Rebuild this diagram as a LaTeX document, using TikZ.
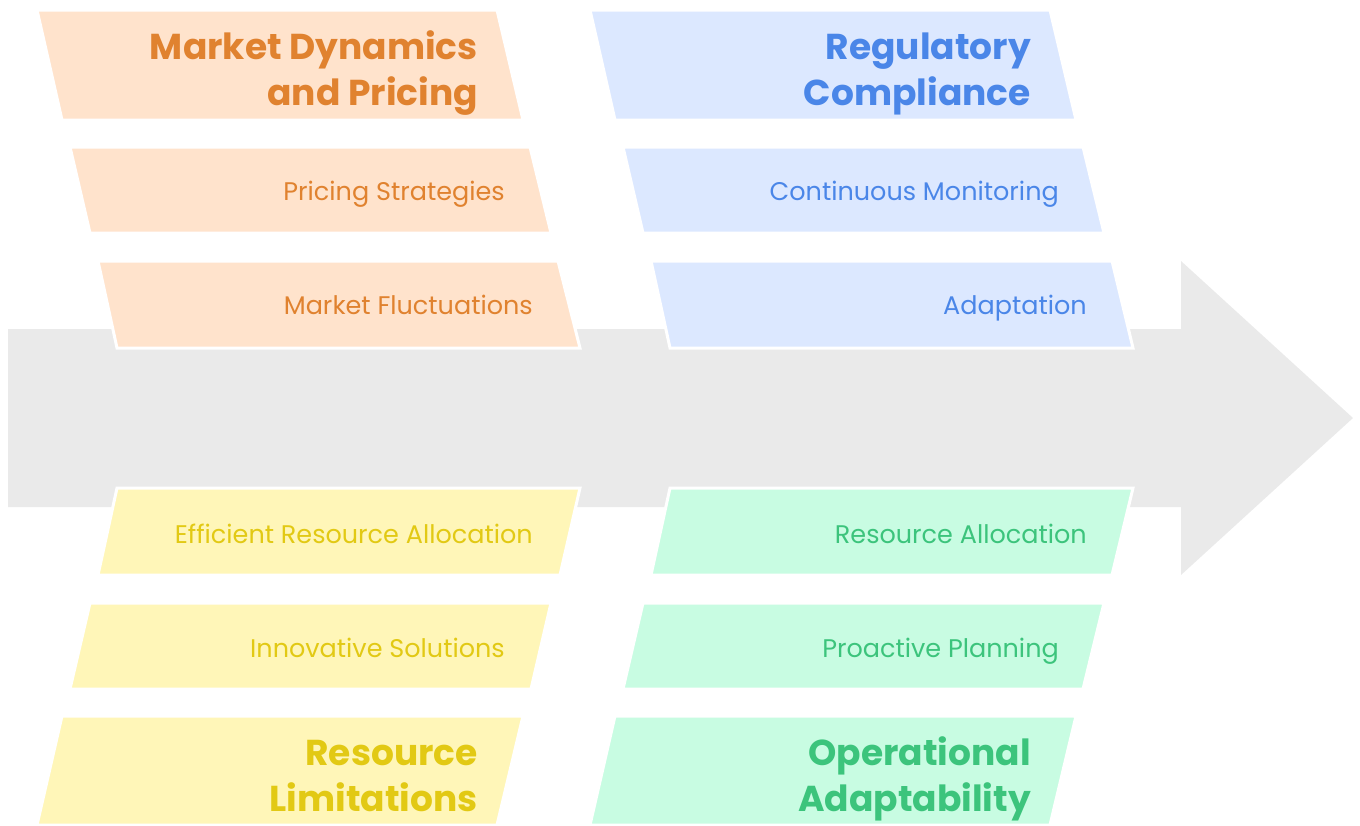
\documentclass[tikz,border=0pt]{standalone}
\usepackage{fontspec}
\setmainfont{Poppins}

% palette
\definecolor{arrowgray}{HTML}{EAEAEA}
\definecolor{orfill}{HTML}{FFE3CC}
\definecolor{ortext}{HTML}{E0822F}
\definecolor{blfill}{HTML}{DCE8FF}
\definecolor{bltext}{HTML}{4A86E8}
\definecolor{yefill}{HTML}{FFF6B8}
\definecolor{yetext}{HTML}{E2C914}
\definecolor{grfill}{HTML}{C8FCE2}
\definecolor{grtext}{HTML}{3CC47C}

\begin{document}
\begin{tikzpicture}[x=1pt,y=-1pt,
  card/.style={draw=white, line width=3pt, line join=miter},
  orcard/.style={card, fill=orfill},
  blcard/.style={card, fill=blfill},
  yecard/.style={card, fill=yefill},
  grcard/.style={card, fill=grfill},
  % base anchor sits on the last line of a multi-line label
  headtxt/.style={anchor=base east, align=right, inner sep=0pt,
    font=\fontsize{36}{46}\selectfont\bfseries},
  subtxt/.style={anchor=base east, inner sep=0pt,
    font=\fontsize{25.5}{30}\selectfont}]
\useasboundingbox (0,0) rectangle (1360,825);

% spine arrow
\fill[arrowgray] (8,329) -- (1181,329) -- (1181,261) -- (1353,418)
  -- (1181,575) -- (1181,507) -- (8,507) -- cycle;

% upper left branch
\path[orcard] (37,10) -- (497,10) -- (523,120) -- (62,120) -- cycle;
\path[orcard] (70,147) -- (530,147) -- (551,233) -- (90,233) -- cycle;
\path[orcard] (98,261) -- (558,261) -- (580,348) -- (117,348) -- cycle;

% upper right branch
\path[blcard] (590,10) -- (1050,10) -- (1076,120) -- (615,120) -- cycle;
\path[blcard] (623,147) -- (1083,147) -- (1104,233) -- (643,233) -- cycle;
\path[blcard] (651,261) -- (1112,261) -- (1133,348) -- (670,348) -- cycle;

% lower left branch
\path[yecard] (117,488) -- (580,488) -- (560,575) -- (98,575) -- cycle;
\path[yecard] (90,603) -- (551,603) -- (531,689) -- (70,689) -- cycle;
\path[yecard] (62,716) -- (523,716) -- (497,825) -- (37,825) -- cycle;

% lower right branch
\path[grcard] (670,488) -- (1133,488) -- (1112,575) -- (651,575) -- cycle;
\path[grcard] (643,603) -- (1104,603) -- (1083,689) -- (623,689) -- cycle;
\path[grcard] (615,716) -- (1076,716) -- (1050,825) -- (590,825) -- cycle;

% labels
\node[headtxt, text=ortext] (mdp) at (478,105) {Market Dynamics\\and Pricing};
\node[subtxt, text=ortext] (ps) at (505,200) {Pricing Strategies};
\node[subtxt, text=ortext] (mf) at (533,314) {Market Fluctuations};

\node[headtxt, text=bltext] (rc) at (1031,105) {Regulatory\\Compliance};
\node[subtxt, text=bltext] (cm) at (1059,200) {Continuous Monitoring};
\node[subtxt, text=bltext] (ad) at (1087,314) {Adaptation};

\node[subtxt, text=yetext] (era) at (533,543) {Efficient Resource Allocation};
\node[subtxt, text=yetext] (is) at (505,657) {Innovative Solutions};
\node[headtxt, text=yetext] (rl) at (478,811) {Resource\\Limitations};

\node[subtxt, text=grtext] (ra) at (1087,543) {Resource Allocation};
\node[subtxt, text=grtext] (pp) at (1059,657) {Proactive Planning};
\node[headtxt, text=grtext] (oa) at (1031,811) {Operational\\Adaptability};
\end{tikzpicture}
\end{document}
